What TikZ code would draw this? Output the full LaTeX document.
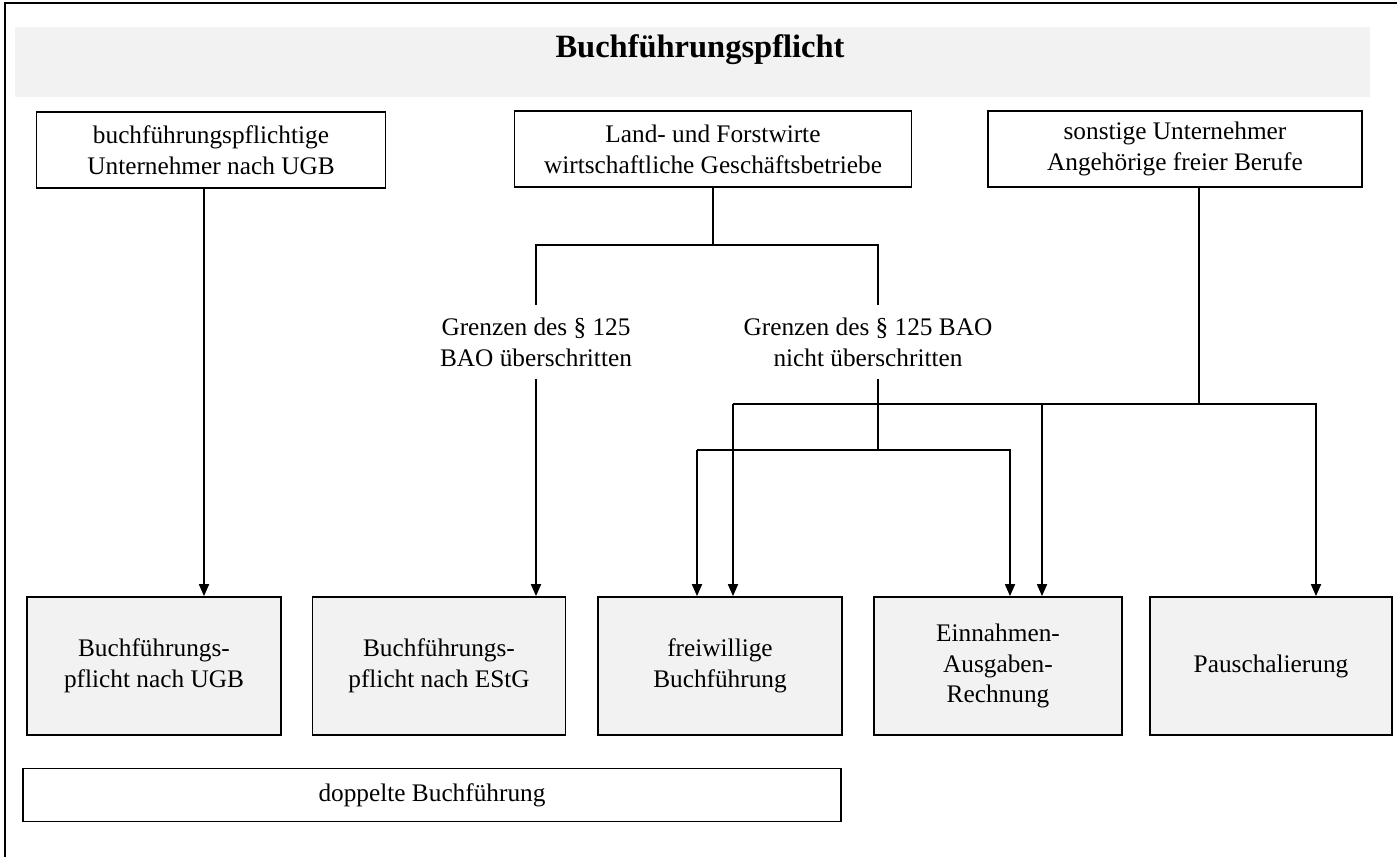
\documentclass[tikz,border=0pt]{standalone}
\usepackage{fontspec}
\setmainfont{Liberation Serif}
\usetikzlibrary{arrows.meta}
\begin{document}
\begin{tikzpicture}[x=0.02cm,y=-0.02cm,
    kasten/.style={draw,line width=1pt,align=center,inner sep=0pt,minimum height=1.53cm,font=\fontsize{14.4}{17.5}\selectfont},
    ziel/.style={draw,line width=1pt,fill=gray!10,align=center,inner sep=0pt,minimum height=2.76cm,font=\fontsize{14.4}{17.5}\selectfont},
    grenze/.style={align=center,inner sep=7pt,font=\fontsize{14.4}{17.5}\selectfont},
    pfeil/.style={-{Triangle[length=2.4mm,width=2mm]},line width=1pt},
    linie/.style={line width=1pt}]
    \useasboundingbox (0,0) rectangle (1397,857);
    \draw[line width=1.2pt] (5,857) -- (5,3) -- (1397,3);

    % Titel
    \fill[gray!10] (15,27) rectangle (1370,97);
    \node[font=\bfseries\fontsize{18.5}{22}\selectfont] (titel) at (700,50) {Buchführungspflicht};

    % obere Reihe
    \node[kasten,minimum width=6.98cm] (ugb) at (211,150) {buchführungspflichtige\\Unternehmer nach UGB};
    \node[kasten,minimum width=7.94cm] (land) at (713,149) {Land- und Forstwirte\\wirtschaftliche Geschäftsbetriebe};
    \node[kasten,minimum width=7.48cm] (sonst) at (1175,149) {sonstige Unternehmer\\Angehörige freier Berufe};

    % untere Reihe
    \node[ziel,minimum width=5.08cm] (pUGB) at (154,666) {Buchführungs-\\pflicht nach UGB};
    \node[ziel,minimum width=5.06cm] (pESt) at (439,666) {Buchführungs-\\pflicht nach EStG};
    \node[ziel,minimum width=4.88cm] (frei) at (720,666) {freiwillige\\Buchführung};
    \node[ziel,minimum width=4.96cm] (ear) at (998,666) {Einnahmen-\\Ausgaben-\\Rechnung};
    \node[ziel,minimum width=4.84cm] (pausch) at (1271,666) {Pauschalierung};
    \node[kasten,minimum width=16.36cm,minimum height=1.06cm] (doppelt) at (432,795) {doppelte Buchführung};

    \node[grenze] (lblL) at (536,342) {Grenzen des § 125\\BAO überschritten};
    \node[grenze] (lblR) at (868,342) {Grenzen des § 125 BAO\\nicht überschritten};

    % Verbindungen
    \coordinate (xa) at (204,0);
    \draw[pfeil] (ugb.south -| xa) -- (pUGB.north -| xa);

    \coordinate (gl) at (536,245);
    \coordinate (gr) at (878,245);
    \draw[linie] (land.south) -- (land.south |- gl);
    \draw[linie] (lblL.north -| gl) -- (gl) -- (gr) -- (lblR.north -| gr);
    \draw[pfeil] (lblL.south -| gl) -- (pESt.north -| gl);

    \coordinate (nl) at (697,450);
    \coordinate (nr) at (1010,450);
    \draw[linie] (lblR.south -| gr) -- (gr |- nl);
    \draw[pfeil] (nl) -- (frei.north -| nl);
    \draw[pfeil] (nl) -- (nr) -- (ear.north -| nr);

    \coordinate (xc) at (1199,0);
    \coordinate (sl) at (733,404);
    \coordinate (sm) at (1042,404);
    \coordinate (sr) at (1316,404);
    \draw[linie] (sonst.south -| xc) -- (xc |- sl);
    \draw[pfeil] (sl) -- (frei.north -| sl);
    \draw[pfeil] (sl) -- (sr) -- (pausch.north -| sr);
    \draw[pfeil] (sm) -- (ear.north -| sm);
\end{tikzpicture}
\end{document}
